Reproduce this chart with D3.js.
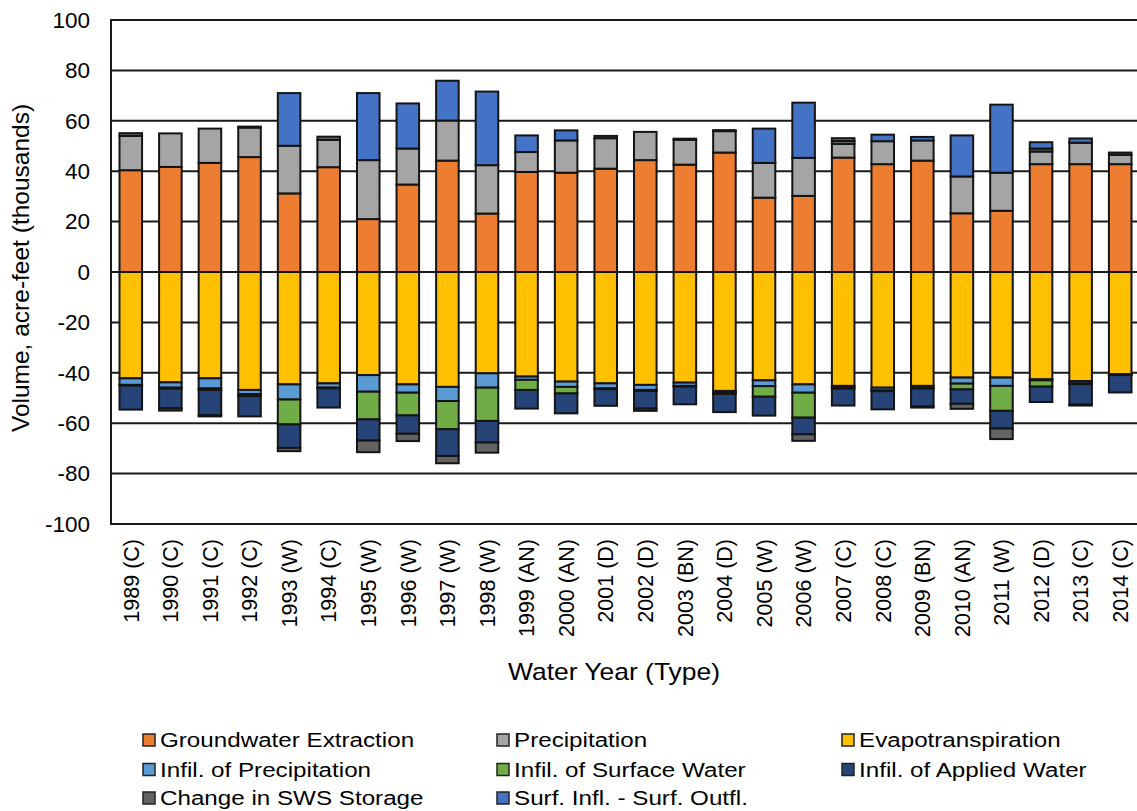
<!DOCTYPE html>
<html><head><meta charset="utf-8">
<script src="https://cdn.jsdelivr.net/npm/d3@7"></script>
<style>
html,body{margin:0;padding:0;background:#fff;}
text{font-family:"Liberation Sans",Arial,sans-serif;fill:#000;}
</style></head>
<body>
<svg id="chart" width="1137" height="811"></svg>
<script>
const categories = ["1989 (C)","1990 (C)","1991 (C)","1992 (C)","1993 (W)","1994 (C)","1995 (W)","1996 (W)","1997 (W)","1998 (W)","1999 (AN)","2000 (AN)","2001 (D)","2002 (D)","2003 (BN)","2004 (D)","2005 (W)","2006 (W)","2007 (C)","2008 (C)","2009 (BN)","2010 (AN)","2011 (W)","2012 (D)","2013 (C)","2014 (C)"];
const groundwaterExtraction = [40.4,41.7,43.3,45.6,31.2,41.6,21.0,34.7,44.2,23.2,39.7,39.4,41.0,44.4,42.6,47.4,29.5,30.2,45.4,42.8,44.2,23.3,24.3,42.8,42.8,42.8];
const precipitation = [13.6,13.3,13.6,11.7,18.9,10.8,23.4,14.3,15.9,19.2,7.9,12.8,12.1,11.2,9.9,8.5,13.8,15.1,5.4,9.1,8.0,14.6,15.1,5.0,8.5,3.7];
const evapotranspiration = [-42.2,-43.8,-42.2,-46.8,-44.6,-44.2,-40.9,-44.6,-45.6,-40.2,-41.5,-43.5,-44.2,-44.8,-43.9,-47.2,-43.0,-44.6,-45.2,-45.9,-45.2,-41.9,-41.9,-42.6,-43.3,-40.6];
const infilPrecipitation = [-2.6,-2.1,-4.0,-1.7,-6.0,-1.7,-6.6,-3.3,-5.6,-5.7,-1.3,-2.1,-2.0,-2.0,-1.3,-0.6,-2.3,-3.3,-0.3,-1.1,-0.8,-2.4,-3.3,-0.4,-0.9,-0.2];
const infilSurfaceWater = [-0.3,-0.4,-0.6,-0.8,-9.9,-0.3,-11.0,-9.0,-11.2,-13.2,-4.0,-2.6,-0.3,-0.4,-0.3,-0.6,-4.2,-9.9,-0.8,-0.3,-0.3,-2.3,-9.9,-2.5,-0.3,-0.1];
const infilAppliedWater = [-9.5,-7.8,-10.1,-8.0,-9.3,-7.6,-8.4,-7.3,-10.6,-8.6,-7.4,-7.9,-6.6,-7.0,-7.0,-7.2,-7.5,-6.6,-6.7,-7.2,-7.1,-5.7,-7.0,-6.1,-8.1,-6.9];
const changeSWSStorage = [1.1,-0.9,-0.4,0.4,-1.3,1.3,-4.6,-2.9,-2.9,-4.0,0,0,0.9,-0.9,0.4,0.4,0,-2.6,1.2,0,-0.4,-2.0,-4.2,1.2,-0.4,0.9];
const surfInflOutfl = [0,0,0,0,20.9,0,26.6,17.9,15.8,29.2,6.6,4.0,0,0,0,0,13.6,21.9,1.1,2.6,1.4,16.3,27.0,2.5,1.7,0];
const yTicks = [100,80,60,40,20,0,-20,-40,-60,-80,-100];

const seriesNames = ["Groundwater Extraction","Precipitation","Evapotranspiration","Infil. of Precipitation","Infil. of Surface Water","Infil. of Applied Water","Change in SWS Storage","Surf. Infl. - Surf. Outfl."];
const seriesValues = [groundwaterExtraction,precipitation,evapotranspiration,infilPrecipitation,infilSurfaceWater,infilAppliedWater,changeSWSStorage,surfInflOutfl];
const colors = ["#ED7D31","#A5A5A5","#FFC000","#5B9BD5","#70AD47","#264478","#636363","#4472C4"];

const rows = categories.map((c,i)=>{const r={cat:c};seriesNames.forEach((n,j)=>r[n]=seriesValues[j][i]);return r;});
const stack = d3.stack().keys(seriesNames).offset(d3.stackOffsetDiverging);
const stacked = stack(rows);

const svg = d3.select("#chart");
const pL=111, pR=1140, pT=20, pB=524;
const x = d3.scaleBand().domain(categories).range([pL,pR]).paddingInner(0.43).paddingOuter(0.215);
const y = d3.scaleLinear().domain([-100,100]).range([pB,pT]);

// gridlines
svg.append("g").selectAll("line").data(yTicks).join("line")
  .attr("x1",pL).attr("x2",pR).attr("y1",d=>y(d)).attr("y2",d=>y(d))
  .attr("stroke","#1a1a1a").attr("stroke-width",2);

// bars
svg.append("g").selectAll("g").data(stacked).join("g")
  .attr("fill",(d,i)=>colors[i])
  .selectAll("rect").data(d=>d.filter(p=>p[1]-p[0]!==0)).join("rect")
  .attr("x",d=>x(d.data.cat)).attr("width",x.bandwidth())
  .attr("y",d=>y(Math.max(d[0],d[1]))).attr("height",d=>Math.abs(y(d[0])-y(d[1])))
  .attr("stroke","#141414").attr("stroke-width",2);

// border
svg.append("rect").attr("x",pL).attr("y",pT).attr("width",pR-pL).attr("height",pB-pT)
  .attr("fill","none").attr("stroke","#1a1a1a").attr("stroke-width",2);

// y axis
const yAxis = d3.axisLeft(y).tickValues(yTicks).tickSize(0).tickPadding(21).tickFormat(d=>String(d));
const ga = svg.append("g").attr("transform",`translate(${pL},0)`).call(yAxis);
ga.select(".domain").remove();
ga.selectAll("text").attr("font-size",22.5).attr("font-family","Liberation Sans, Arial, sans-serif").attr("fill","#000");

// x axis
const xAxis = d3.axisBottom(x).tickSize(0).tickPadding(0);
const gx = svg.append("g").attr("transform",`translate(0,${pB})`).call(xAxis);
gx.select(".domain").remove();
gx.selectAll("text").attr("font-size",21.5).attr("font-family","Liberation Sans, Arial, sans-serif").attr("fill","#000")
  .attr("transform","rotate(-90)").attr("text-anchor","end").attr("dy","0.36em").attr("x",-15).attr("y",0);

svg.append("text").attr("transform","translate(29,268) rotate(-90)").attr("text-anchor","middle")
  .attr("font-size",24.5).text("Volume, acre-feet (thousands)");
svg.append("text").attr("transform","translate(614,680) scale(1.15,1)").attr("text-anchor","middle")
  .attr("font-size",23).text("Water Year (Type)");

// legend
const legX=[143,497,842], legY=[740,769.5,798];
const leg = svg.append("g").selectAll("g").data(seriesNames).join("g")
  .attr("transform",(d,i)=>`translate(${legX[i%3]},${legY[Math.floor(i/3)]})`);
leg.append("rect").attr("x",0).attr("y",-6).attr("width",12).attr("height",12)
  .attr("fill",(d,i)=>colors[i]).attr("stroke","#222").attr("stroke-width",1.5);
leg.append("text").attr("transform","translate(17,0) scale(1.21,1)").attr("dy","0.36em").attr("font-size",20).text(d=>d);
</script>
</body></html>
